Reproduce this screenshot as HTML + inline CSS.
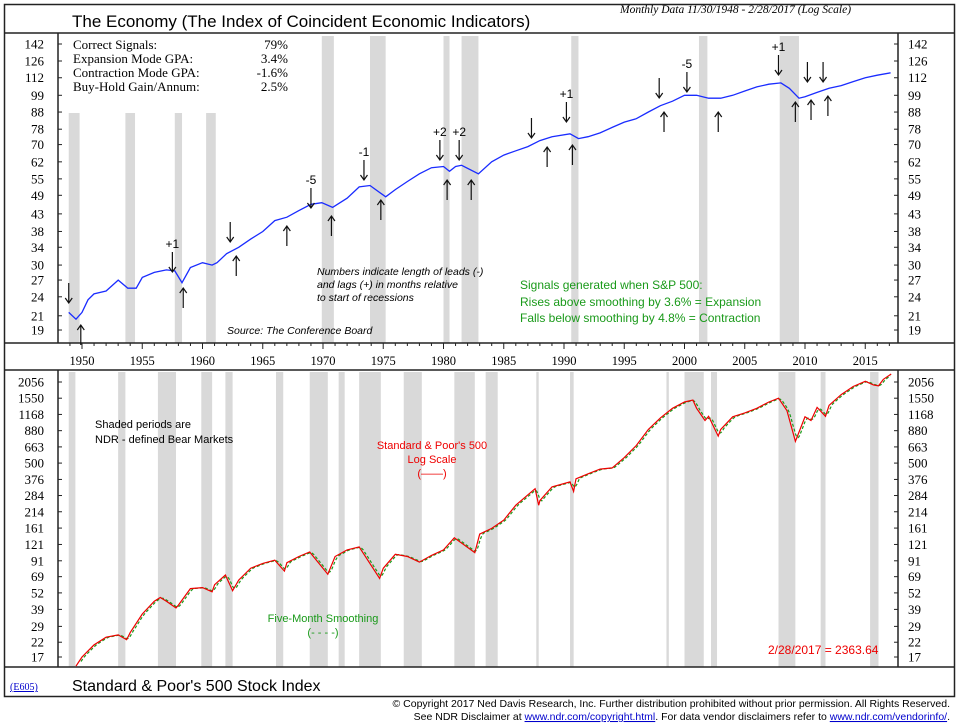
<!DOCTYPE html>
<html><head><meta charset="utf-8"><style>
body{margin:0;background:#fff;}
svg{display:block;font-family:"Liberation Sans",Arial,sans-serif;}
.ser{font-family:"Liberation Serif",serif;}
</style></head><body>
<svg id="c" width="959" height="724" xmlns="http://www.w3.org/2000/svg">
<rect x="4.5" y="4.5" width="950" height="692" fill="#fff" stroke="#222" stroke-width="1.5"/>
<g id="shades"></g>
<g id="frame" stroke="#222" stroke-width="1.5" fill="none">
<line x1="4" y1="33" x2="955" y2="33"/>
<line x1="4" y1="343" x2="955" y2="343"/>
<line x1="4" y1="370" x2="955" y2="370"/>
<line x1="4" y1="667" x2="955" y2="667"/>
<line x1="58" y1="33" x2="58" y2="343"/>
<line x1="898" y1="33" x2="898" y2="343"/>
<line x1="58" y1="370" x2="58" y2="667"/>
<line x1="898" y1="370" x2="898" y2="667"/>
</g>
<g id="axes"></g>
<g id="series"></g>
<g id="arrows"></g>
<text x="72" y="27" font-size="17">The Economy (The Index of Coincident Economic Indicators)</text>
<text x="620" y="13" font-size="11.5" font-style="italic" class="ser">Monthly Data 11/30/1948 - 2/28/2017 (Log Scale)</text>
<g class="ser" font-size="13">
<rect x="64" y="36" width="234" height="60" fill="#fff"/>
<text x="73" y="49">Correct Signals:</text><text x="288" y="49" text-anchor="end">79%</text>
<text x="73" y="63">Expansion Mode GPA:</text><text x="288" y="63" text-anchor="end">3.4%</text>
<text x="73" y="77">Contraction Mode GPA:</text><text x="288" y="77" text-anchor="end">-1.6%</text>
<text x="73" y="91">Buy-Hold Gain/Annum:</text><text x="288" y="91" text-anchor="end">2.5%</text>
</g>
<g font-size="10.5" font-style="italic">
<text x="317" y="275">Numbers indicate length of leads (-)</text>
<text x="317" y="288">and lags (+) in months relative</text>
<text x="317" y="301">to start of recessions</text>
</g>
<text x="227" y="334" font-size="10.5" font-style="italic">Source: The Conference Board</text>
<g font-size="12" fill="#1a9a1a">
<text x="520" y="289">Signals generated when S&amp;P 500:</text>
<text x="520" y="306">Rises above smoothing by 3.6% = Expansion</text>
<text x="520" y="322">Falls below smoothing by 4.8% = Contraction</text>
</g>
<g font-size="11">
<text x="95" y="428">Shaded periods are</text>
<text x="95" y="443">NDR - defined Bear Markets</text>
</g>
<g font-size="11" fill="#e00" text-anchor="middle">
<text x="432" y="449">Standard &amp; Poor's 500</text>
<text x="432" y="463">Log Scale</text>
<text x="432" y="477">(——)</text>
</g>
<g font-size="11" fill="#1a9a1a" text-anchor="middle">
<text x="323" y="622">Five-Month Smoothing</text>
<text x="323" y="636">(- - - -)</text>
</g>
<text x="768" y="654" font-size="12" fill="#e00">2/28/2017 = 2363.64</text>
<text x="10" y="690" font-size="10" class="ser" fill="#00c" text-decoration="underline">(E605)</text>
<text x="72" y="691" font-size="16">Standard &amp; Poor's 500 Stock Index</text>
<g font-size="10.5" text-anchor="end">
<text x="950" y="707">© Copyright 2017 Ned Davis Research, Inc.  Further distribution prohibited without prior permission.  All Rights Reserved.</text>
<text x="950" y="720">See NDR Disclaimer at <tspan fill="#00c" text-decoration="underline">www.ndr.com/copyright.html</tspan>. For data vendor disclaimers refer to <tspan fill="#00c" text-decoration="underline">www.ndr.com/vendorinfo/</tspan>.</text>
</g>
</svg>
<script>
const recessions=[[1948.9,1949.8],[1953.6,1954.4],[1957.7,1958.3],[1960.3,1961.1],[1969.9,1970.9],[1973.9,1975.2],[1980.0,1980.5],[1981.5,1982.9],[1990.6,1991.2],[2001.2,2001.9],[2007.9,2009.5]];
const bearMarkets=[[1948.9,1949.45],[1953.0,1953.6],[1956.3,1957.8],[1959.9,1960.8],[1961.9,1962.5],[1966.1,1966.7],[1968.9,1970.4],[1971.3,1971.8],[1973.0,1974.8],[1976.7,1978.2],[1980.9,1982.6],[1983.5,1984.5],[1987.7,1987.9],[1990.5,1990.8],[1998.5,1998.7],[2000.0,2001.6],[2002.2,2002.7],[2007.8,2009.2],[2011.3,2011.7],[2015.4,2016.1]];
const econTicks=[142,126,112,99,88,78,70,62,55,49,43,38,34,30,27,24,21,19];
const spTicks=[2056,1550,1168,880,663,500,376,284,214,161,121,91,69,52,39,29,22,17];
const econYears=[1948.9,1949.5,1950,1950.5,1951,1952,1953,1953.8,1954.5,1955,1956,1957,1957.7,1958.3,1959,1960,1960.8,1961.2,1962,1963,1964,1965,1966,1967,1968,1969,1969.9,1970.8,1971,1972,1973,1973.9,1975.2,1976,1977,1978,1979,1980,1980.5,1981,1981.5,1982.9,1984,1985,1986,1987,1988,1989,1990.5,1991.2,1992,1993,1994,1995,1996,1997,1998,1999,2000,2001,2002,2003,2004,2005,2006,2007,2008,2008.7,2009.5,2010,2011,2012,2013,2014,2015,2016,2017.1];
const econValues=[21.5,20.5,21.5,23.5,24.5,25,27,25.5,25.5,27.5,28.5,29,28.8,26.5,29.5,30.5,30,30.5,32.5,34,36,38,41,42,44,46,46.5,45,45.5,48,52,52.5,48.5,51,54,57,59.5,60,58,60,60.5,57,62,65,67,69,72,74,75.5,73,74,76,79,82,84,88,92,95,99,99,97,97,99,102,105,107,108,104,97,98,101,104,106,109,112,114,116];
const spYears=[1949.5,1950,1951,1952,1953,1953.7,1954,1955,1956,1956.5,1957,1957.8,1958,1959,1960,1960.8,1961,1961.9,1962.5,1963,1964,1965,1966,1966.8,1967,1968,1968.9,1970.4,1971,1972,1973,1974.7,1975,1976,1977,1978,1979,1980,1980.9,1982.6,1983,1984,1985,1986,1987.6,1987.9,1988,1989,1990.5,1990.8,1991,1992,1993,1994,1995,1996,1997,1998,1999,2000,2000.7,2001,2001.7,2002,2002.8,2003,2004,2005,2006,2007,2007.8,2008.5,2009.2,2010,2010.5,2011,2011.7,2012,2013,2014,2015,2015.7,2016.1,2016.5,2017.15];
const spValues=[14.5,17,21,24,25,23,26,36,45,48,45,40,42,56,57,53,60,71,54,65,80,87,92,76,88,98,106,72,98,110,116,67,80,102,98,89,100,110,136,105,145,160,185,240,320,240,260,330,360,305,380,415,450,460,550,680,900,1100,1300,1450,1500,1300,1050,1130,800,900,1120,1200,1300,1450,1550,1250,730,1120,1050,1320,1130,1370,1650,1900,2080,1950,1920,2150,2364];
const downArrows=[[1948.9,303,'',0],[1957.5,272,'+1',1],[1962.3,242,'',0],[1969.0,208,'-5',1],[1973.4,180,'-1',1],[1979.7,160,'+2',1],[1981.3,160,'+2',1],[1987.3,138,'',0],[1990.2,122,'+1',1],[1997.9,98,'',0],[2000.2,92,'-5',1],[2007.8,75,'+1',1],[2010.2,82,'',0],[2011.5,82,'',0]];
const upArrows=[[1949.9,325],[1958.4,288],[1962.8,256],[1967.0,226],[1970.7,216],[1974.8,200],[1980.3,180],[1982.3,180],[1988.6,147],[1990.7,145],[1998.3,112],[2002.8,112],[2009.2,102],[2010.5,100],[2011.9,96]];

const NS='http://www.w3.org/2000/svg';
const X=y=>82+(y-1950)*12.05;
const Ytop=v=>44+Math.log(142/v)*142.2;
const Ybot=v=>382+Math.log(2056/v)*57.35;
function mk(tag,attrs,parent){const e=document.createElementNS(NS,tag);for(const k in attrs)e.setAttribute(k,attrs[k]);document.getElementById(parent).appendChild(e);return e;}

recessions.forEach(r=>{
  const top=(r[0]<1962)?113:36;
  const e=mk('rect',{x:X(r[0]),y:top,width:X(r[1])-X(r[0]),height:343-top,fill:'#d9d9d9'},'shades');
  
  
});
bearMarkets.forEach(r=>{
  const e=mk('rect',{x:X(r[0]),y:372,width:Math.max(2,X(r[1])-X(r[0])),height:295,fill:'#d9d9d9'},'shades');
  
  
});
function yAxis(ticks,fy,name){
  ticks.forEach(t=>{
    const y=fy(t);
    mk('line',{x1:58,y1:y,x2:62,y2:y,stroke:'#222'},'axes');
    mk('line',{x1:894,y1:y,x2:898,y2:y,stroke:'#222'},'axes');
    const a=mk('text',{x:44,y:y+4.5,'font-size':13,'text-anchor':'end',class:'ser'},'axes');a.textContent=t;
    
    
    const b=mk('text',{x:908,y:y+4.5,'font-size':13,class:'ser'},'axes');b.textContent=t;
    
    
  });
}
yAxis(econTicks,Ytop,'economy-axis');
yAxis(spTicks,Ybot,'sp500-axis');
for(let yr=1949;yr<=2017;yr++){
  const x=X(yr);const major=yr%5===0;
  mk('line',{x1:x,y1:343,x2:x,y2:major?349:346,stroke:'#222'},'axes');
  if(major){const t=mk('text',{x:x,y:365,'font-size':12.5,'text-anchor':'middle',class:'ser'},'axes');t.textContent=yr;
    
    }
}
function interp(xs,vs,x){if(x<=xs[0])return vs[0];for(let i=1;i<xs.length;i++){if(x<=xs[i]){const f=(x-xs[i-1])/(xs[i]-xs[i-1]);return Math.exp(Math.log(vs[i-1])*(1-f)+Math.log(vs[i])*f);}}return vs[vs.length-1];}
let d='';econYears.forEach((y,i)=>{d+=(i?'L':'M')+X(y).toFixed(1)+','+Ytop(econValues[i]).toFixed(1);});
const ec=mk('path',{d:d,fill:'none',stroke:'#1a2cff','stroke-width':1.3},'series');


let ds='';let first=true;
for(let m=spYears[0]+5/12;m<=spYears[spYears.length-1];m+=1/12){let s=0;for(let k=0;k<5;k++)s+=interp(spYears,spValues,m-k/12);s/=5;ds+=(first?'M':'L')+X(m).toFixed(1)+','+Ybot(s).toFixed(1);first=false;}
const sm=mk('path',{d:ds,fill:'none',stroke:'#1a9a1a','stroke-width':1.2,'stroke-dasharray':'3,2'},'series');


let dp='';spYears.forEach((y,i)=>{dp+=(i?'L':'M')+X(y).toFixed(1)+','+Ybot(spValues[i]).toFixed(1);});
const sp=mk('path',{d:dp,fill:'none',stroke:'#e00','stroke-width':1.2},'series');


downArrows.forEach(a=>{
  const x=X(a[0]),y=a[1];
  const p=mk('path',{d:`M${x},${y-20}V${y}M${x-3.5},${y-5}L${x},${y}L${x+3.5},${y-5}`,fill:'none',stroke:'#111','stroke-width':1.2},'arrows');
  
  
  if(a[2]){const t=mk('text',{x:x,y:y-24,'font-size':12,'text-anchor':'middle'},'arrows');t.textContent=a[2];
    
    }
});
upArrows.forEach(a=>{
  const x=X(a[0]),y=a[1];
  const p=mk('path',{d:`M${x},${y+20}V${y}M${x-3.5},${y+5}L${x},${y}L${x+3.5},${y+5}`,fill:'none',stroke:'#111','stroke-width':1.2},'arrows');
  
  
});
</script>
</body></html>
